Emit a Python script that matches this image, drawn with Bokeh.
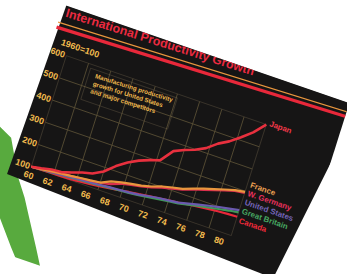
from bokeh.plotting import figure
from bokeh.models import Label, BoxAnnotation, PolyAnnotation, InlineStyleSheet
from bokeh.core.properties import value
from bokeh.embed import file_html
from bokeh.resources import INLINE

# ---------------- data ----------------
years = [1960, 1961, 1962, 1963, 1964, 1965, 1966, 1967, 1968, 1969, 1970,
         1971, 1972, 1973, 1974, 1975, 1976, 1977, 1978, 1979, 1980, 1981]
japan = [100, 108, 117, 120, 133, 148, 158, 182, 221, 252, 275,
         292, 306, 362, 382, 398, 420, 455, 480, 513, 550, 600]
france = [100, 104, 109, 114, 118, 123, 127, 132, 152, 162, 170,
          177, 188, 203, 213, 222, 238, 252, 265, 278, 290, 297]
w_germany = [100, 104, 108, 113, 118, 122, 126, 131, 140, 156, 166,
             174, 184, 198, 208, 218, 234, 247, 260, 274, 286, 292]
united_states = [100, 103, 106, 109, 113, 116, 119, 122, 126, 129, 132,
                 137, 144, 151, 155, 160, 170, 180, 190, 199, 207, 215]
great_britain = [100, 102, 105, 108, 111, 114, 117, 120, 124, 127, 130,
                 134, 140, 146, 151, 156, 165, 174, 182, 190, 198, 205]
canada = [100, 101, 102, 103, 104, 107, 111, 116, 121, 127, 134,
          139, 145, 150, 155, 160, 166, 171, 176, 180, 183, 185]

x_ticks = [1960, 1962, 1964, 1966, 1968, 1970, 1972, 1974, 1976, 1978, 1980]
x_tick_labels = ["60", "62", "64", "66", "68", "70", "72", "74", "76", "78", "80"]
y_ticks = [100, 200, 300, 400, 500, 600]
y_tick_labels = ["100", "200", "300", "400", "500", "600"]

title_text = "International Productivity Growth"
index_text = "1960=100"
note_lines = ["Manufacturing productivity",
              "growth for United States",
              "and major competitors"]

series = [
    ("Canada", canada, "#e8283a", "#f02a3a"),
    ("Great Britain", great_britain, "#3f9a58", "#46a862"),
    ("United States", united_states, "#6a5aae", "#7464b8"),
    ("W. Germany", w_germany, "#d92f4c", "#e6305c"),
    ("France", france, "#e8963e", "#eca052"),
    ("Japan", japan, "#e8303e", "#ee3848"),
]

# ---------------- layout (board pixels: u right, v down) ----------------
CW, CH = 331, 258          # drawing surface
ML = 28                    # board's left offset on the surface
FL, FR, FT, FB = 18, 230, 48, 166      # chart frame on the board
X0, X1, Y0, Y1 = 1960, 1981, 100, 600

def ux(u):
    return X0 + (u - FL) * (X1 - X0) / (FR - FL)

def vy(v):
    return Y0 + (FB - v) * (Y1 - Y0) / (FB - FT)

label_v = {"Japan": 46, "France": 111, "W. Germany": 120,
           "United States": 129.5, "Great Britain": 139, "Canada": 149}
# the photographed board (slightly foreshortened) and the green paper beside it
board_u = [3, 314, 283, -3]
board_v = [-6, -6, 193, 181]
green_u = [-30, -8, 3, 23, 40, 45, 66, 59, 47, 31, 21, 9, -10, -30]
green_v = [150, 202, 225, 250, 270, 280, 273, 263, 242, 215, 198, 181, 145, 135]

BOARD = "#161515"
YELLOW = "#f2bb4e"
FRAME = "#8c7a5c"
GRID = "#5a5036"
FONT = "Liberation Sans"

p = figure(width=CW, height=CH,
           x_range=(ux(-ML), ux(CW - ML)), y_range=(vy(CH), vy(0)),
           output_backend="svg", toolbar_location=None,
           x_axis_location=None, y_axis_location=None,
           min_border=0)
p.grid.visible = False
p.outline_line_color = None
p.background_fill_color = "#ffffff"
p.border_fill_color = "#ffffff"

# photo surroundings + board
p.add_layout(PolyAnnotation(xs=[ux(u) for u in green_u], ys=[vy(v) for v in green_v],
                            fill_color="#58aa3e", fill_alpha=1, line_color=None,
                            level="underlay"))
p.add_layout(PolyAnnotation(xs=[ux(u) for u in board_u], ys=[vy(v) for v in board_v],
                            fill_color=BOARD, fill_alpha=1, line_color=None,
                            level="underlay"))

# chart frame and faint square grid
p.add_layout(BoxAnnotation(left=X0, right=X1, bottom=Y0, top=Y1, fill_alpha=0,
                           line_color=FRAME, line_width=1, level="underlay"))
grid_x = [X0 + k * (X1 - X0) / 9 for k in range(1, 9)]
grid_y = y_ticks[1:-1]
p.segment(x0=grid_x, x1=grid_x, y0=[Y0] * len(grid_x), y1=[Y1] * len(grid_x),
          line_color=GRID, line_width=0.8)
p.segment(x0=[X0] * len(grid_y), x1=[X1] * len(grid_y), y0=grid_y, y1=grid_y,
          line_color=GRID, line_width=0.8)

# tick labels, placed through the data scales
p.text(x=x_ticks, y=[vy(175)] * len(x_ticks), text=x_tick_labels,
       text_align="center", text_baseline="middle", text_color=YELLOW,
       text_font=value(FONT), text_font_style="bold", text_font_size="9px")
p.text(x=[ux(16.5)] * len(y_ticks), y=y_ticks, text=y_tick_labels,
       text_align="right", text_baseline="middle", text_color=YELLOW,
       text_font=value(FONT), text_font_style="bold", text_font_size="9px")

# series lines + end labels
for name, vals, lc, tc in series:
    p.line(years, vals, line_color=lc, line_width=2.6 if name == "Japan" else 2.2,
           line_join="round")
    p.add_layout(Label(x=X1, y=vy(label_v[name]), x_offset=3, text=name,
                       text_baseline="middle", text_color=tc,
                       text_font=FONT, text_font_style="bold",
                       text_font_size="8px"))

# title and its rule lines
p.add_layout(PolyAnnotation(xs=[ux(0), ux(320), ux(320), ux(0)],
                            ys=[vy(18.0), vy(8.0), vy(9.2), vy(19.2)],
                            fill_color="#e8963e", fill_alpha=1, line_color=None))
p.add_layout(PolyAnnotation(xs=[ux(0), ux(320), ux(320), ux(0)],
                            ys=[vy(22.2), vy(11.8), vy(15.0), vy(25.6)],
                            fill_color="#e8283a", fill_alpha=1, line_color=None))
p.add_layout(Label(x=ux(5), y=vy(14.0), text=title_text, angle=0.028,
                   text_color="#ea2a40", text_font=FONT,
                   text_font_style="bold", text_font_size="12.5px"))
p.add_layout(Label(x=ux(9), y=vy(36.5), text=index_text, text_baseline="middle",
                   text_color=YELLOW, text_font=FONT,
                   text_font_style="bold", text_font_size="9px"))

# note box
p.add_layout(BoxAnnotation(left=ux(45), right=ux(137), top=vy(52), bottom=vy(85),
                           fill_alpha=0, line_color=FRAME, line_width=1))
for i, line in enumerate(note_lines):
    p.add_layout(Label(x=ux(52), y=vy(61 + 8 * i), text=line, angle=0.03,
                       text_color=YELLOW, text_font=FONT,
                       text_font_style="bold", text_font_size="6.3px"))

# the board is photographed tilted: tilt the drawing surface, not the host box
tilt = InlineStyleSheet(css="""
:host { overflow: visible !important; }
.bk-Canvas {
  transform: matrix(0.943, 0.325, -0.297, 0.941, 36.9, -5.1);
  transform-origin: 0 0;
}
""")
p.stylesheets = [tilt]

open("out.html", "w").write(file_html(p, INLINE))
